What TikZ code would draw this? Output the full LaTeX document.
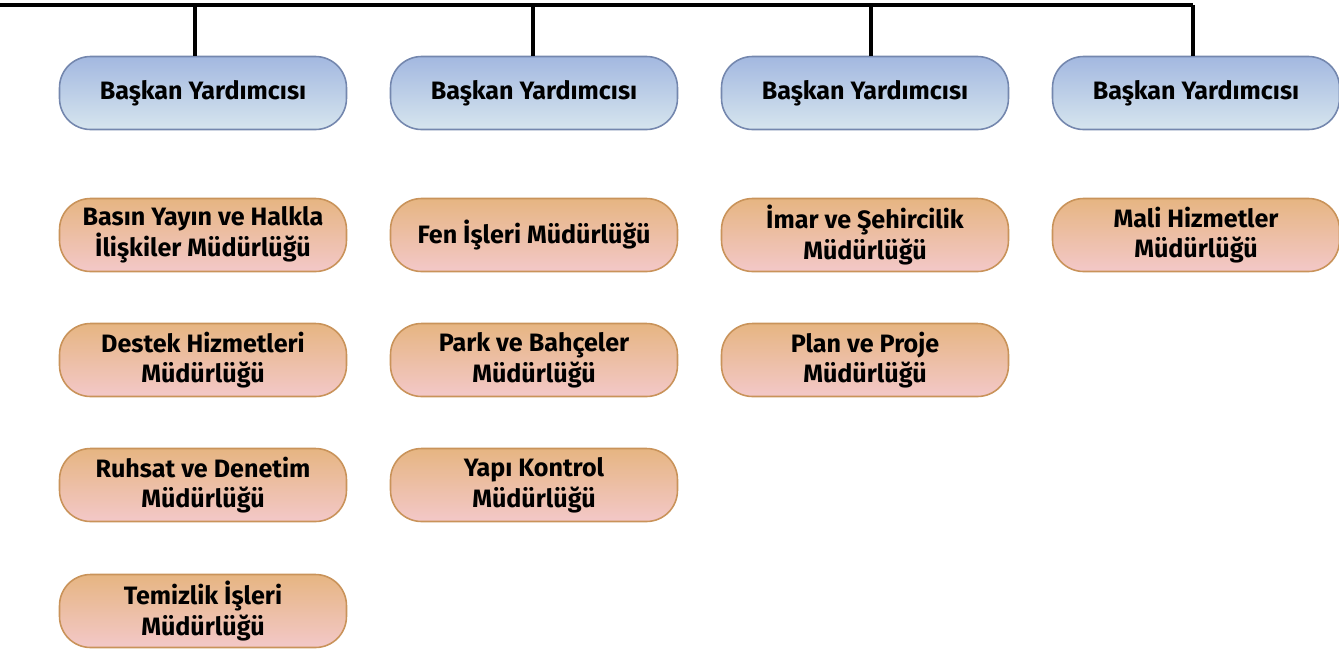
\documentclass[tikz,border=0pt]{standalone}
\usepackage{fontspec}
\setmainfont{Fira Sans}
\definecolor{vptop}{HTML}{A3B8E0}
\definecolor{vpbot}{HTML}{D6E5EE}
\definecolor{vpedge}{HTML}{7487AE}
\definecolor{untop}{HTML}{E6B582}
\definecolor{unbot}{HTML}{F3C8C8}
\definecolor{unedge}{HTML}{C9935A}
\begin{document}
\begin{tikzpicture}[x=0.02cm, y=-0.02cm,
    box/.style={rounded corners=0.62cm, minimum width=5.74cm, minimum height=1.46cm,
        align=center, font=\fontsize{14.3}{17.5}\selectfont\bfseries, line width=0.9pt},
    vpbox/.style={box, draw=vpedge, top color=vptop, bottom color=vpbot},
    unitbox/.style={box, draw=unedge, top color=untop, bottom color=unbot},
    bus/.style={line width=2.3pt}]
    \useasboundingbox (0,0) rectangle (1339,650);
    % vice presidents
    \node[vpbox] (vp1) at (203,93) {Başkan Yardımcısı};
    \node[vpbox] (vp2) at (534,93) {Başkan Yardımcısı};
    \node[vpbox] (vp3) at (865,93) {Başkan Yardımcısı};
    \node[vpbox] (vp4) at (1196,93) {Başkan Yardımcısı};
    % directorates
    \node[unitbox] (basin) at (203,235) {Basın Yayın ve Halkla\\İlişkiler Müdürlüğü};
    \node[unitbox] (destek) at (203,360) {Destek Hizmetleri\\Müdürlüğü};
    \node[unitbox] (ruhsat) at (203,485) {Ruhsat ve Denetim\\Müdürlüğü};
    \node[unitbox] (temizlik) at (203,611) {Temizlik İşleri\\Müdürlüğü};
    \node[unitbox] (fen) at (534,235) {Fen İşleri Müdürlüğü};
    \node[unitbox] (park) at (534,360) {Park ve Bahçeler\\Müdürlüğü};
    \node[unitbox] (yapi) at (534,485) {Yapı Kontrol\\Müdürlüğü};
    \node[unitbox] (imar) at (865,235) {İmar ve Şehircilik\\Müdürlüğü};
    \node[unitbox] (plan) at (865,360) {Plan ve Proje\\Müdürlüğü};
    \node[unitbox] (mali) at (1196,235) {Mali Hizmetler\\Müdürlüğü};
    % bus line
    \coordinate (busL) at (0,5);
    \coordinate (d1) at (195,5);
    \coordinate (d2) at (533,5);
    \coordinate (d3) at (871,5);
    \coordinate (d4) at (1193,5);
    \draw[bus] (busL) -- (d4);
    \foreach \i in {1,...,4} {
        \draw[bus] (d\i) -- (d\i |- vp\i.north);
    }
\end{tikzpicture}
\end{document}
